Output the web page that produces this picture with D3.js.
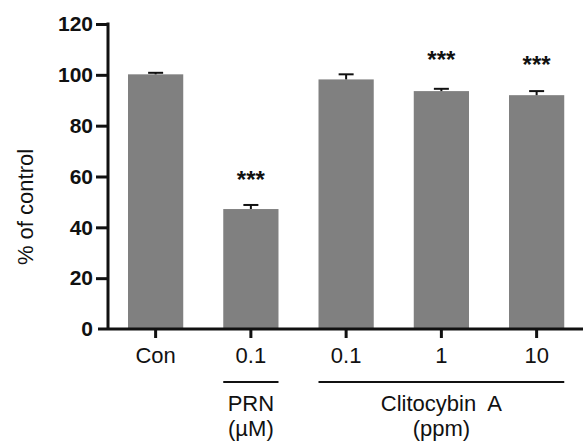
<!DOCTYPE html>
<html>
<head>
<meta charset="utf-8">
<script src="https://cdn.jsdelivr.net/npm/d3@7/dist/d3.min.js"></script>
<style>
  body { margin: 0; background: #fff; }
  svg { display: block; }
  text { font-family: Arial, "Liberation Sans", sans-serif; fill: #111; }
</style>
</head>
<body>
<svg id="chart" width="583" height="446"></svg>
<script>
const categories = ["Con", "0.1 PRN", "0.1 CA", "1 CA", "10 CA"];
const tickLabels = ["Con", "0.1", "0.1", "1", "10"];
const values = [100.2, 47.2, 98.2, 93.6, 92.0];
const errors = [0.6, 1.6, 2.0, 0.9, 1.6];
const stars = ["", "***", "", "***", "***"];
const starValues = [0, 59, 0, 106, 104];
const yTicks = [0, 20, 40, 60, 80, 100, 120];
const groups = [
  { label: ["PRN", "(\u00b5M)"], from: "0.1 PRN", to: "0.1 PRN" },
  { label: ["Clitocybin  A", "(ppm)"], from: "0.1 CA", to: "10 CA" }
];

const svg = d3.select("#chart");
const axisX = 108;
const y = d3.scaleLinear().domain([0, 120]).range([329, 24]);
const x = d3.scaleBand().domain(categories).range([axisX, 584.25])
  .paddingInner(0.42).paddingOuter(0.21);

// bars
svg.selectAll("rect.bar").data(categories).enter().append("rect")
  .attr("class", "bar")
  .attr("x", d => x(d))
  .attr("width", x.bandwidth())
  .attr("y", (d, i) => y(values[i]))
  .attr("height", (d, i) => y(0) - y(values[i]))
  .attr("fill", "#808080");

// error bars
const eg = svg.append("g").attr("stroke", "#111").attr("stroke-width", 2);
categories.forEach((c, i) => {
  const cx = x(c) + x.bandwidth() / 2;
  eg.append("line").attr("x1", cx).attr("x2", cx)
    .attr("y1", y(values[i])).attr("y2", y(values[i] + errors[i]));
  eg.append("line").attr("x1", cx - 7.5).attr("x2", cx + 7.5)
    .attr("y1", y(values[i] + errors[i])).attr("y2", y(values[i] + errors[i]));
});

// stars
categories.forEach((c, i) => {
  if (!stars[i]) return;
  svg.append("text")
    .attr("x", x(c) + x.bandwidth() / 2)
    .attr("y", y(starValues[i]))
    .attr("text-anchor", "middle")
    .attr("dominant-baseline", "central")
    .style("font-size", "24px")
    .style("font-weight", "bold")
    .text(stars[i]);
});

// y axis
const yAxis = d3.axisLeft(y).tickValues(yTicks).tickSize(12).tickPadding(3);
const gy = svg.append("g").attr("transform", `translate(${axisX},0)`).call(yAxis);
gy.select(".domain").attr("stroke", "#111").attr("stroke-width", 3)
  .attr("d", `M0,${y(120) - 1.5}V${y(0)}`);
gy.selectAll(".tick line").attr("stroke", "#111").attr("stroke-width", 3);
gy.selectAll(".tick").filter(d => d === 0).select("line").remove();
gy.selectAll(".tick text")
  .style("font-size", "21px").style("font-weight", "bold")
  .attr("font-family", null).attr("fill", "#111");

// x axis
const xAxis = d3.axisBottom(x).tickSize(9).tickPadding(9)
  .tickFormat((d, i) => tickLabels[i]);
const gx = svg.append("g").attr("transform", `translate(0,${y(0)})`).call(xAxis);
gx.select(".domain").attr("stroke", "#111").attr("stroke-width", 3)
  .attr("d", `M${axisX - 10},0H583`);
gx.selectAll(".tick line").attr("stroke", "#111").attr("stroke-width", 3);
gx.selectAll(".tick text")
  .style("font-size", "22px")
  .attr("font-family", null).attr("fill", "#111");

// group lines and labels
groups.forEach(g => {
  const x1 = x(g.from), x2 = x(g.to) + x.bandwidth();
  svg.append("line").attr("x1", x1).attr("x2", x2).attr("y1", 382).attr("y2", 382)
    .attr("stroke", "#111").attr("stroke-width", 1.8);
  g.label.forEach((t, k) => {
    svg.append("text")
      .attr("x", (x1 + x2) / 2)
      .attr("y", 411 + k * 25)
      .attr("text-anchor", "middle")
      .style("font-size", "22px")
      .style("white-space", "pre")
      .attr("xml:space", "preserve")
      .text(t);
  });
});

// y label
svg.append("text")
  .attr("transform", `translate(33,${207}) rotate(-90)`)
  .attr("text-anchor", "middle")
  .style("font-size", "22px")
  .text("% of control");
</script>
</body>
</html>
